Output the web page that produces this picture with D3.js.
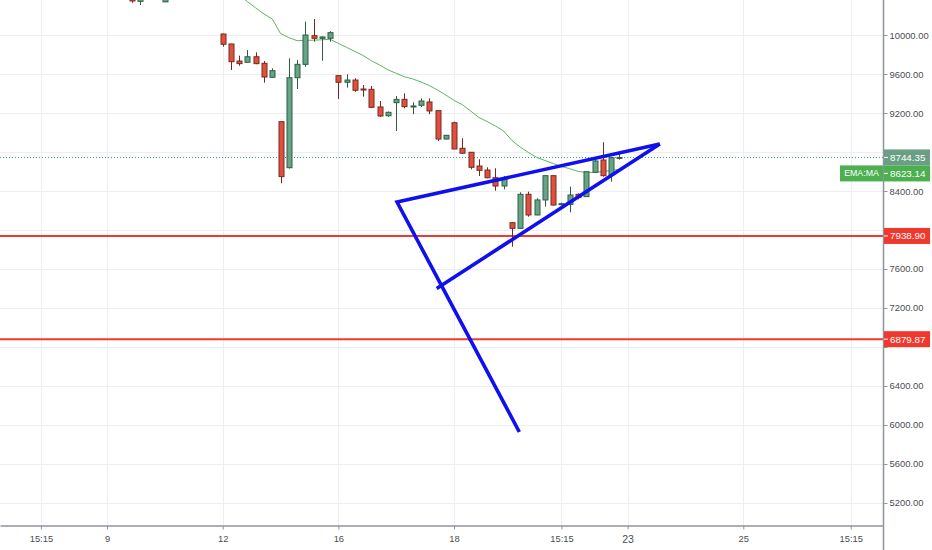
<!DOCTYPE html>
<html><head><meta charset="utf-8">
<script src="https://cdn.jsdelivr.net/npm/d3@7"></script>
<style>
html,body{margin:0;padding:0;background:#fff;}
svg{display:block;font-family:"Liberation Sans",Arial,sans-serif;}
</style></head>
<body>
<svg id="chart" width="932" height="550"></svg>
<script>
// ---- data ----
const candleIndex = [0,1,4,11,12,13,14,15,16,17,18,19,20,21,22,23,24,25,26,27,28,29,30,31,32,33,34,35,36,37,38,39,40,41,42,43,44,45,46,47,48,49,50,51,52,53,54,55,56,57,58,59];
const opens  = [10400,10345,10340,10010,9908,9733,9720,9777,9710,9566,9111,8639,9562,9699,9993,9966,9966,9583,9515,9538,9446,9443,9262,9172,9306,9340,9262,9279,9313,9224,8933,9100,8838,8797,8656,8615,8536,8451,8075,8017,8366,8154,8308,8557,8260,8263,8366,8342,8592,8718,8564,8742];
const highs  = [10400,10400,10400,10015,9910,9788,9846,9822,9733,9658,9115,9761,9744,10137,10164,9985,10040,9590,9597,9556,9487,9477,9323,9215,9374,9402,9310,9350,9350,9230,8975,9111,8941,8800,8725,8643,8633,8554,8080,8387,8393,8325,8560,8560,8280,8444,8375,8600,8735,8900,8750,8780];
const lows   = [10330,10308,10338,9880,9641,9685,9718,9700,9511,9560,8479,8630,9446,9675,9931,9736,9931,9344,9460,9419,9367,9250,9160,9160,9015,9248,9187,9262,9187,8913,8930,8830,8780,8622,8554,8530,8403,8417,7829,8010,8137,8150,8239,8250,8250,8181,8315,8340,8590,8547,8495,8720];
const closes = [10349,10395,10390,9905,9726,9706,9777,9706,9569,9634,8547,9562,9699,10000,9966,9980,10024,9515,9538,9433,9436,9258,9169,9207,9340,9265,9272,9323,9221,8933,8971,8831,8787,8643,8612,8536,8451,8536,8017,8366,8154,8308,8557,8256,8270,8359,8332,8598,8708,8557,8742,8744.35];

const emaIndex = [13,14,15,16,17,18,19,20,21,22,23,24,25,26,27,28,29,30,31,32,33,34,35,36,37,38,39,40,41,42,43,44,45,46,47,48,49,50,51,52,53,54,55,56,57,58,59];
const emaValues = [10407,10342,10277,10215,10164,10015,9973,9942,9944,9947,9951,9956,9914,9873,9831,9789,9736,9692,9643,9607,9572,9549,9518,9482,9436,9384,9329,9286,9221,9154,9113,9067,9015,8918,8851,8795,8744,8713,8682,8651,8629,8601,8590,8590,8600,8610,8623.14];

const yTickValues = [5200,5600,6000,6400,6800,7200,7600,8000,8400,8800,9200,9600,10000];
const xTickIndex  = [-11,-3,11,25,39,52,60,74,87];
const xTickLabels = ["15:15","9","12","16","18","15:15","23","25","15:15"];

const lastPrice = 8744.35;
const emaLast = 8623.14;
const levelValues = [7938.90, 6879.87];

// trend drawing (index, price)
const trendWedge = [[46.9,5928],[32.1,8287],[63.9,8882]];
const trendLower = [[36.9,7400],[63.9,8882]];

// ---- layout ----
const W = 932, H = 550, plotW = 883, plotH = 525;
const svg = d3.select("#chart");
const x = d3.scaleLinear().domain([-15.95, 90.91]).range([0, plotW]);
const y = d3.scaleLinear().domain([4974, 10359]).range([plotH, 0]);

svg.append("defs").append("clipPath").attr("id","clip")
  .append("rect").attr("x",0).attr("y",0).attr("width",plotW).attr("height",plotH);

// grid
const grid = svg.append("g");
grid.selectAll(".hg").data(yTickValues).join("line")
  .attr("x1",0).attr("x2",plotW).attr("y1",d=>Math.round(y(d))+0.5).attr("y2",d=>Math.round(y(d))+0.5)
  .attr("stroke","#eceef2").attr("stroke-width",1);
grid.selectAll(".vg").data(xTickIndex).join("line")
  .attr("y1",0).attr("y2",plotH).attr("x1",d=>Math.round(x(d))+0.5).attr("x2",d=>Math.round(x(d))+0.5)
  .attr("stroke","#eceef2").attr("stroke-width",1);

const plot = svg.append("g").attr("clip-path","url(#clip)");

// level lines
plot.selectAll(".lvl").data(levelValues).join("line")
  .attr("x1",0).attr("x2",plotW).attr("y1",d=>y(d)).attr("y2",d=>y(d))
  .attr("stroke","#ef3b2f").attr("stroke-width",2);

// last price dotted
plot.append("line").attr("x1",0).attr("x2",plotW)
  .attr("y1",Math.round(y(lastPrice))+0.5).attr("y2",Math.round(y(lastPrice))+0.5)
  .attr("stroke","#35a593").attr("stroke-width",1).attr("stroke-dasharray","1,2");

// EMA
plot.append("path")
  .datum(emaIndex.map((d,i)=>[d,emaValues[i]]))
  .attr("d", d3.line().x(d=>x(d[0])).y(d=>y(d[1])))
  .attr("fill","none").attr("stroke","#5cb85c").attr("stroke-width",1);

// candles
const candles = candleIndex.map((d,i)=>({i:d,o:opens[i],h:highs[i],l:lows[i],c:closes[i]}));
const cg = plot.selectAll(".c").data(candles).join("g");
cg.append("line")
  .attr("x1",d=>Math.round(x(d.i))+0.5).attr("x2",d=>Math.round(x(d.i))+0.5)
  .attr("y1",d=>y(d.h)).attr("y2",d=>y(d.l))
  .attr("stroke",d=>d.c>=d.o?"#2f5e45":"#6e2a20").attr("stroke-width",1);
const bw = 5;
cg.append("rect")
  .attr("x",d=>Math.round(x(d.i))-bw/2+0.5)
  .attr("width",bw)
  .attr("y",d=>y(Math.max(d.o,d.c)))
  .attr("height",d=>Math.max(1,Math.abs(y(d.o)-y(d.c))))
  .attr("fill",d=>d.c>=d.o?"#65a584":"#e0503e")
  .attr("stroke",d=>d.c>=d.o?"#2f5e45":"#7a2a1e").attr("stroke-width",1);

// trend lines
const tl = d3.line().x(d=>x(d[0])).y(d=>y(d[1]));
svg.append("path").datum(trendWedge).attr("d",tl)
  .attr("fill","none").attr("stroke","#1010ee").attr("stroke-width",3.6).attr("stroke-linejoin","miter");
svg.append("path").datum(trendLower).attr("d",tl)
  .attr("fill","none").attr("stroke","#1010ee").attr("stroke-width",3.6);

// price label positions (used to skip tick labels hidden under them)
const lpY = y(lastPrice);
const emaY = Math.max(y(emaLast), lpY+16);
const boxYs = levelValues.map(v=>y(v)).concat([lpY, emaY]);

// axes
const axisColor = "#8f949c";
const textColor = "#4a4d52";
const yAxis = svg.append("g").attr("transform",`translate(${plotW+0.5},0)`)
  .call(d3.axisRight(y).tickValues(yTickValues).tickFormat(d3.format(".2f")).tickSize(4).tickSizeOuter(0).tickPadding(2));
yAxis.select(".domain").remove();
yAxis.selectAll(".tick line").attr("stroke",axisColor);
yAxis.selectAll(".tick text").attr("fill",textColor).attr("font-size","9.4px")
  .attr("font-family","'Liberation Sans',Arial,sans-serif")
  .style("display",d=>boxYs.some(b=>Math.abs(b-y(d))<13)?"none":null);

const xAxis = svg.append("g").attr("transform",`translate(0,${plotH+0.5})`)
  .call(d3.axisBottom(x).tickValues(xTickIndex).tickFormat((d,i)=>xTickLabels[i]).tickSize(4).tickSizeOuter(0).tickPadding(6));
xAxis.select(".domain").attr("stroke",axisColor).attr("stroke-width",1.5);
xAxis.selectAll(".tick line").attr("stroke",axisColor);
xAxis.selectAll(".tick text").attr("fill",textColor)
  .attr("font-family","'Liberation Sans',Arial,sans-serif")
  .attr("font-size",(d,i)=>xTickLabels[i]==="23"?"10.5px":"9.4px");

svg.append("line").attr("x1",plotW+0.5).attr("x2",plotW+0.5).attr("y1",0).attr("y2",H)
  .attr("stroke",axisColor).attr("stroke-width",1.5);

// price labels
function priceLabel(cy, fill, text){
  const g = svg.append("g");
  g.append("rect").attr("x",plotW+1).attr("y",cy-8).attr("width",46).attr("height",16).attr("fill",fill);
  g.append("line").attr("x1",plotW+1).attr("x2",plotW+5).attr("y1",cy).attr("y2",cy).attr("stroke","#fff");
  g.append("text").attr("x",plotW+7).attr("y",cy).attr("dy","0.35em").attr("fill","#fff")
    .attr("font-size","9.8px").text(text);
}
levelValues.forEach(v=>priceLabel(y(v), "#f0392c", d3.format(".2f")(v)));
priceLabel(lpY, "#6a9f86", d3.format(".2f")(lastPrice));
priceLabel(emaY, "#4caf50", d3.format(".2f")(emaLast));
svg.append("rect").attr("x",840).attr("y",emaY-8).attr("width",43).attr("height",16).attr("fill","#4caf50");
svg.append("text").attr("x",861.5).attr("y",emaY).attr("dy","0.35em").attr("text-anchor","middle")
  .attr("fill","#fff").attr("font-size","8.8px").text("EMA:MA");
</script>
</body></html>
